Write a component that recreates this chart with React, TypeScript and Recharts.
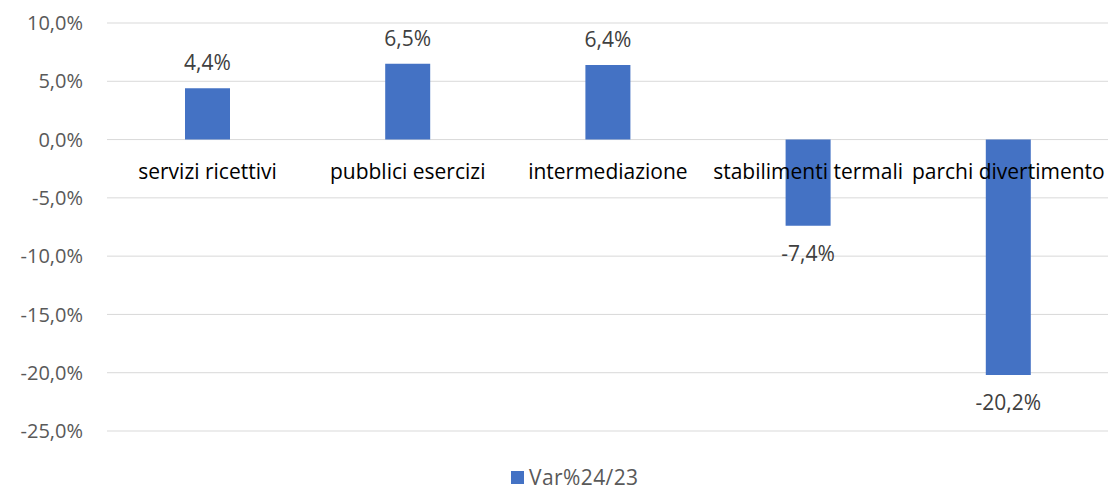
import React from "react";
import { BarChart, Bar, XAxis, YAxis, CartesianGrid, Legend, LabelList } from "recharts";

const categories = ["servizi ricettivi", "pubblici esercizi", "intermediazione", "stabilimenti termali", "parchi divertimento"];
const values = [4.4, 6.5, 6.4, -7.4, -20.2];
const yTicks = [-25, -20, -15, -10, -5, 0, 5, 10];
const seriesName = "Var%24/23";

const data = categories.map((c, i) => ({ cat: c, v: values[i] }));

const FONT = "'Open Sans', sans-serif";
const FS = 21;
const FS_TICK = 20;
const fmt = (v: number) => `${v.toFixed(1).replace(".", ",")}%`;

const CatLabel = (props: any) => {
  const vb = props.viewBox ?? props;
  const x = Number(vb.x), y = Number(vb.y), w = Number(vb.width), h = Number(vb.height);
  const idx = props.index;
  const val = values[idx];
  const zero = val >= 0 ? Math.max(y, y + h) : Math.min(y, y + h);
  return (
    <text x={x + w / 2} y={zero + 31} textAnchor="middle" dominantBaseline="central" fill="#000" fontSize={FS} fontFamily={FONT}>
      {categories[idx]}
    </text>
  );
};

const ValLabel = (props: any) => {
  const vb = props.viewBox ?? props;
  const x = Number(vb.x), y = Number(vb.y), w = Number(vb.width), h = Number(vb.height);
  const idx = props.index;
  const val = values[idx];
  const end = val >= 0 ? Math.min(y, y + h) : Math.max(y, y + h);
  const ty = val >= 0 ? end - 26 : end + 27;
  return (
    <text x={x + w / 2} y={ty} textAnchor="middle" dominantBaseline="central" fill="#404040" fontSize={FS} fontFamily={FONT}>
      {fmt(val)}
    </text>
  );
};

const LegendContent = () => (
  <div style={{ display: "flex", alignItems: "center", fontFamily: FONT, fontSize: FS, color: "#595959", lineHeight: "28px", height: 28 }}>
    <span style={{ display: "inline-block", width: 13, height: 13, background: "#4472C4", marginRight: 5 }} />
    <span style={{ letterSpacing: 0.4 }}>{seriesName}</span>
  </div>
);

export default function App() {
  return (
    <div style={{ position: "absolute", left: 0, top: 0, background: "#fff" }}>
      <BarChart width={1111} height={491} data={data} margin={{ top: 23, right: 3, left: 0, bottom: 32 }}>
        <CartesianGrid vertical={false} stroke="#D9D9D9" />
        <XAxis dataKey="cat" hide />
        <YAxis
          type="number"
          domain={[-25, 10]}
          ticks={yTicks}
          width={107}
          axisLine={false}
          tickLine={false}
          tickSize={0}
          tickMargin={24}
          interval={0}
          tickFormatter={fmt}
          tick={{ fill: "#595959", fontSize: FS_TICK, fontFamily: FONT }}
        />
        <Legend
          verticalAlign="bottom"
          align="left"
          height={28}
          wrapperStyle={{ left: 511, bottom: 0 }}
          content={<LegendContent />}
        />
        <Bar dataKey="v" name={seriesName} fill="#4472C4" barSize={45} isAnimationActive={false}>
          <LabelList dataKey="v" content={<ValLabel />} />
          <LabelList dataKey="cat" content={<CatLabel />} />
        </Bar>
      </BarChart>
    </div>
  );
}
